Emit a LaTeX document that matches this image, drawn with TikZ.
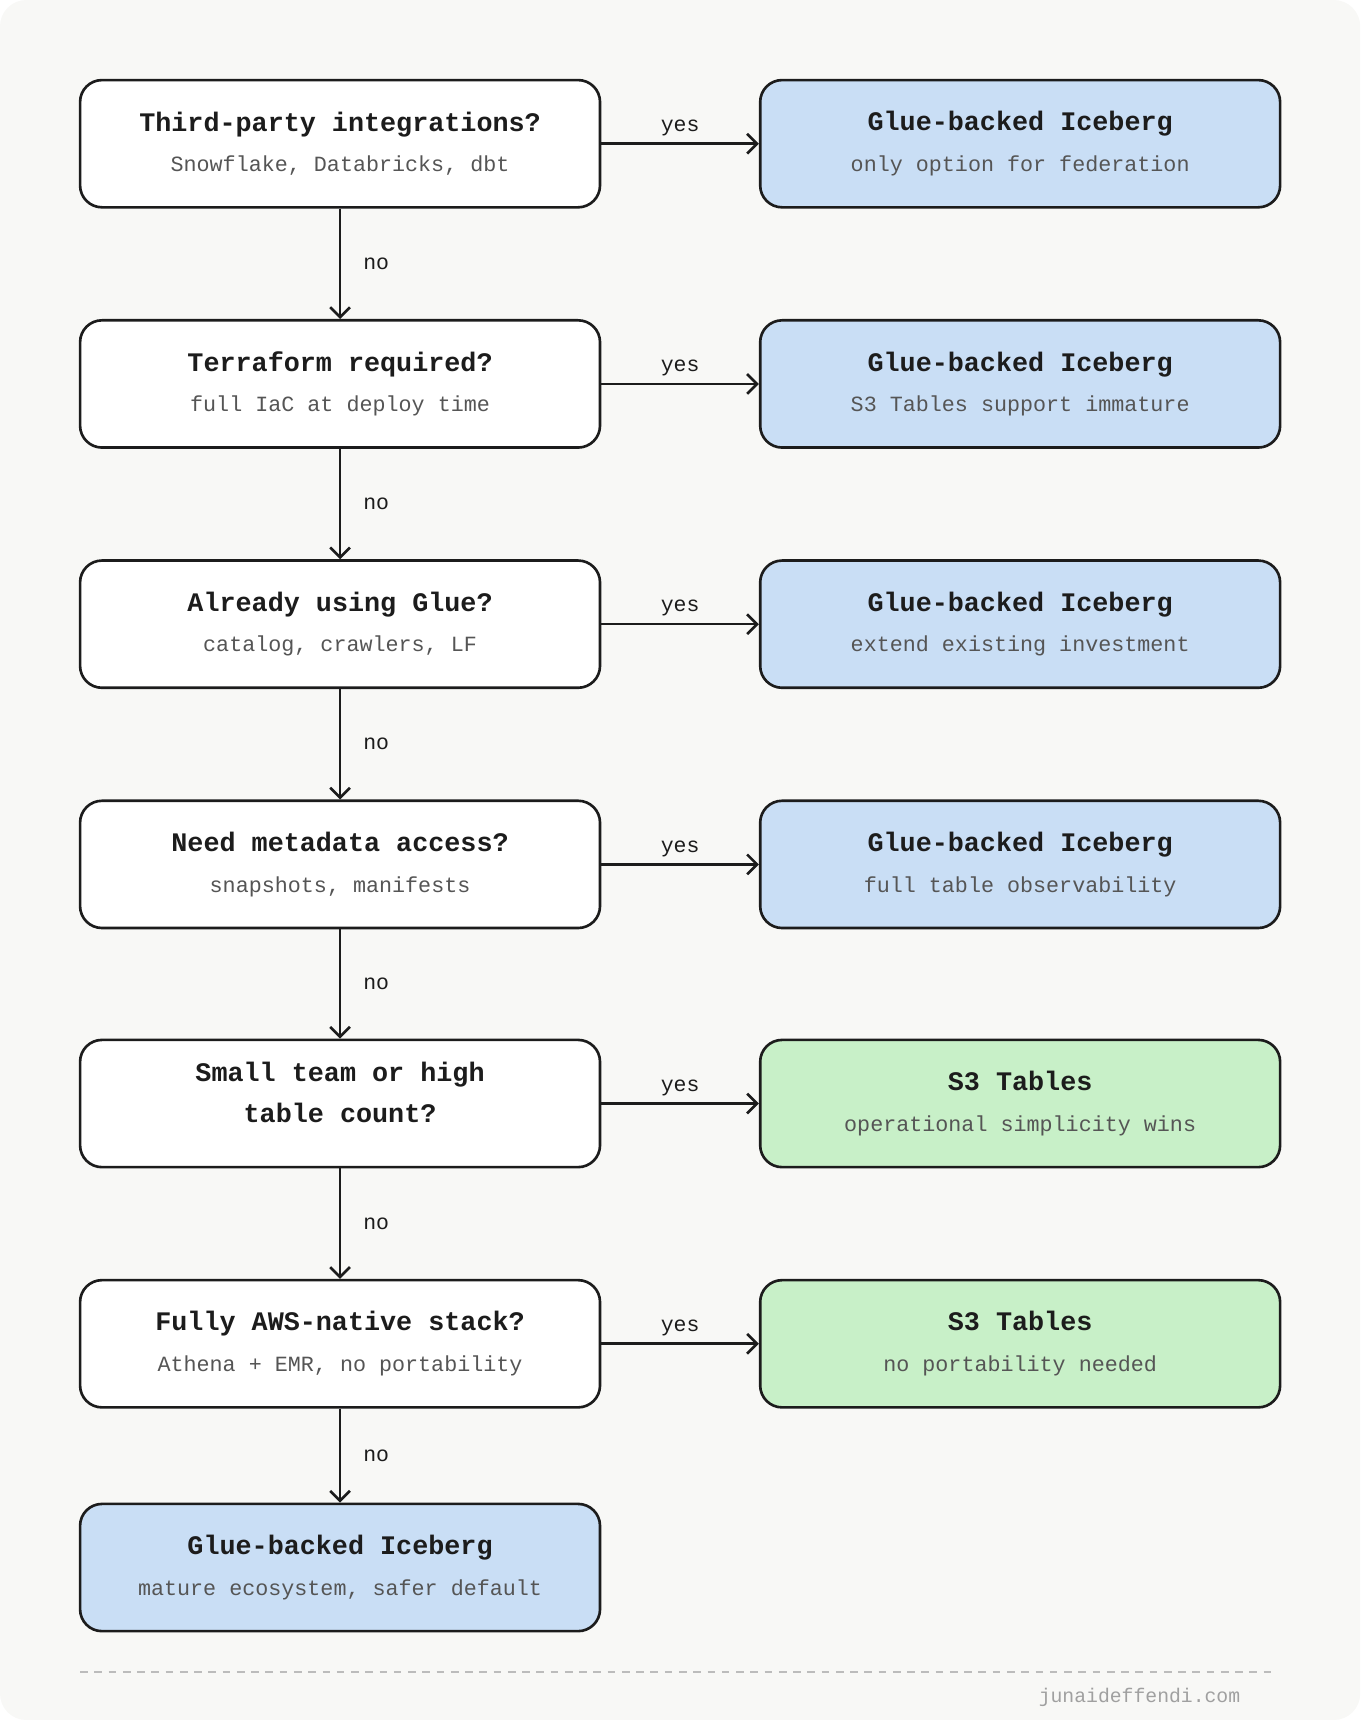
\documentclass[tikz,border=0pt]{standalone}
\usepackage{fontspec}
\setmonofont{Liberation Mono}
\usetikzlibrary{arrows.meta}

\definecolor{ink}{HTML}{1C1C1C}
\definecolor{subgrey}{HTML}{555555}
\definecolor{paper}{HTML}{F8F8F6}
\definecolor{gluefill}{HTML}{C9DEF5}
\definecolor{sthreefill}{HTML}{C8F0C8}
\definecolor{footgrey}{HTML}{A0A0A0}

\newcommand\hd[1]{{\fontsize{12.2}{18.5}\selectfont\bfseries\color{ink}#1}}

\begin{document}
\begin{tikzpicture}[x=0.5pt,y=-0.5pt,
    box/.style={draw=ink, line width=1.2pt, rounded corners=10pt,
        minimum width=237pt, minimum height=58pt, inner sep=0pt, align=center,
        text=subgrey, font=\ttfamily\fontsize{9.9}{18.5}\selectfont},
    ask/.style={box, fill=white},
    glue/.style={box, fill=gluefill},
    sthree/.style={box, fill=sthreefill},
    flow/.style={draw=ink, line width=1.2pt, -{Straight Barb[length=4.5pt,width=9pt]}},
    tag/.style={inner sep=0pt, text=ink, font=\ttfamily\fontsize{9.8}{12}\selectfont}]

% background sheet
\fill[paper, rounded corners=12pt] (0,0) rectangle (1240,1568);
\useasboundingbox (0,0) rectangle (1240,1568);

% the questions, down the left
\node[ask] (q1) at (310,131)  {\hd{Third-party integrations?}\\Snowflake, Databricks, dbt};
\node[ask] (q2) at (310,350)  {\hd{Terraform required?}\\full IaC at deploy time};
\node[ask] (q3) at (310,569)  {\hd{Already using Glue?}\\catalog, crawlers, LF};
\node[ask] (q4) at (310,788)  {\hd{Need metadata access?}\\snapshots, manifests};
\node[ask] (q5) at (310,1006) {};
\node[align=center, inner sep=0pt, font=\ttfamily\fontsize{12.2}{18.5}\selectfont]
    (q5text) at ([yshift=5pt]q5.center) {\hd{Small team or high}\\\hd{table count?}};
\node[ask] (q6) at (310,1225) {\hd{Fully AWS-native stack?}\\Athena + EMR, no portability};
\node[glue] (last) at (310,1429) {\hd{Glue-backed Iceberg}\\mature ecosystem, safer default};

% the answers, on the right
\node[glue] (a1) at (930,131)  {\hd{Glue-backed Iceberg}\\only option for federation};
\node[glue] (a2) at (930,350)  {\hd{Glue-backed Iceberg}\\S3 Tables support immature};
\node[glue] (a3) at (930,569)  {\hd{Glue-backed Iceberg}\\extend existing investment};
\node[glue] (a4) at (930,788)  {\hd{Glue-backed Iceberg}\\full table observability};
\node[sthree] (a5) at (930,1006) {\hd{S3 Tables}\\operational simplicity wins};
\node[sthree] (a6) at (930,1225) {\hd{S3 Tables}\\no portability needed};

% yes branches
\draw[flow] (q1) -- node[tag, above=3pt] (y1) {yes} (a1);
\draw[flow] (q2) -- node[tag, above=3pt] (y2) {yes} (a2);
\draw[flow] (q3) -- node[tag, above=3pt] (y3) {yes} (a3);
\draw[flow] (q4) -- node[tag, above=3pt] (y4) {yes} (a4);
\draw[flow] (q5) -- node[tag, above=3pt] (y5) {yes} (a5);
\draw[flow] (q6) -- node[tag, above=3pt] (y6) {yes} (a6);

% no branches
\draw[flow] (q1) -- node[tag, right=10pt] (n1) {no} (q2);
\draw[flow] (q2) -- node[tag, right=10pt] (n2) {no} (q3);
\draw[flow] (q3) -- node[tag, right=10pt] (n3) {no} (q4);
\draw[flow] (q4) -- node[tag, right=10pt] (n4) {no} (q5);
\draw[flow] (q5) -- node[tag, right=10pt] (n5) {no} (q6);
\draw[flow] (q6) -- node[tag, right=10pt] (n6) {no} (last);

% footer
\coordinate (rulel) at (73,1524);
\coordinate (ruler) at (1162,1524);
\draw[footgrey!70, line width=0.7pt, dash pattern=on 3.5pt off 3pt] (rulel) -- (ruler);
\node[anchor=east, inner sep=0pt, text=footgrey, font=\ttfamily\fontsize{9}{11}\selectfont]
    (site) at (1131,1547) {junaideffendi.com};

\end{tikzpicture}
\end{document}
